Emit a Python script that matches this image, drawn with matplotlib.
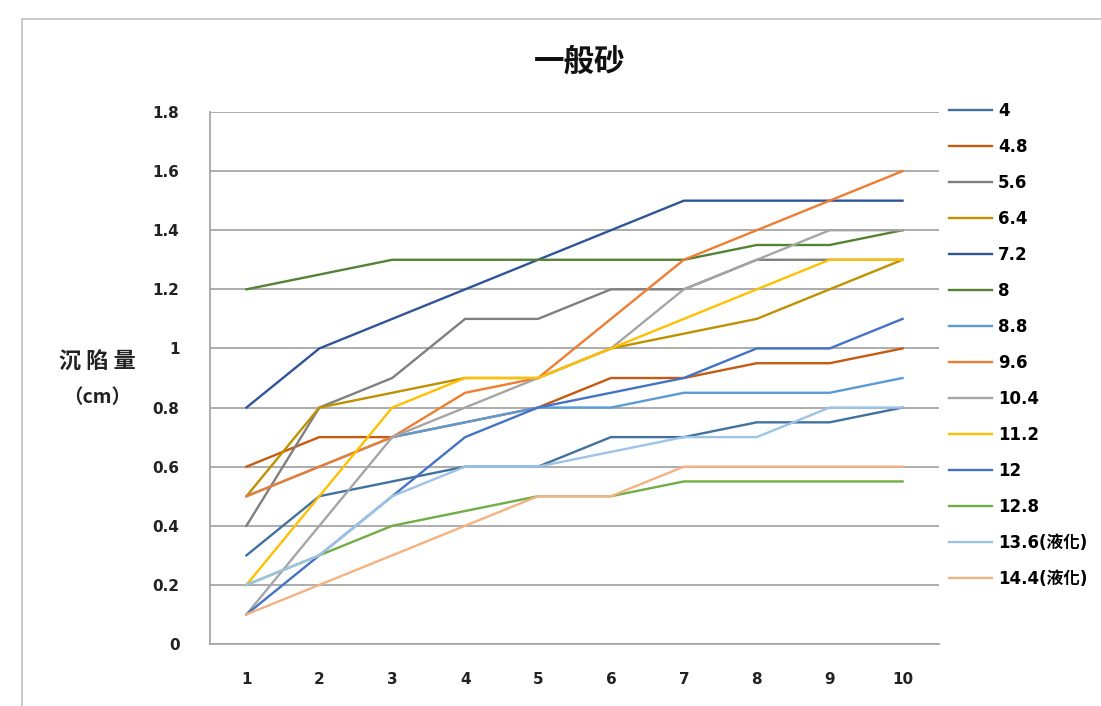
import matplotlib
matplotlib.use("Agg")
import matplotlib.pyplot as plt
from matplotlib.patches import Rectangle

plt.rcParams['font.family'] = ['Noto Sans CJK TC', 'DejaVu Sans']

# Test number on the x axis
steps = [1, 2, 3, 4, 5, 6, 7, 8, 9, 10]

# Series names (legend labels)
labels = ["4", "4.8", "5.6", "6.4", "7.2", "8", "8.8", "9.6",
          "10.4", "11.2", "12", "12.8", "13.6(液化)", "14.4(液化)"]

# Settlement values (cm) per series
s_4_0 = [0.30, 0.50, 0.55, 0.60, 0.60, 0.70, 0.70, 0.75, 0.75, 0.80]
s_4_8 = [0.60, 0.70, 0.70, 0.75, 0.80, 0.90, 0.90, 0.95, 0.95, 1.00]
s_5_6 = [0.40, 0.80, 0.90, 1.10, 1.10, 1.20, 1.20, 1.30, 1.30, 1.30]
s_6_4 = [0.50, 0.80, 0.85, 0.90, 0.90, 1.00, 1.05, 1.10, 1.20, 1.30]
s_7_2 = [0.80, 1.00, 1.10, 1.20, 1.30, 1.40, 1.50, 1.50, 1.50, 1.50]
s_8_0 = [1.20, 1.25, 1.30, 1.30, 1.30, 1.30, 1.30, 1.35, 1.35, 1.40]
s_8_8 = [0.50, 0.60, 0.70, 0.75, 0.80, 0.80, 0.85, 0.85, 0.85, 0.90]
s_9_6 = [0.50, 0.60, 0.70, 0.85, 0.90, 1.10, 1.30, 1.40, 1.50, 1.60]
s_10_4 = [0.10, 0.40, 0.70, 0.80, 0.90, 1.00, 1.20, 1.30, 1.40, 1.40]
s_11_2 = [0.20, 0.50, 0.80, 0.90, 0.90, 1.00, 1.10, 1.20, 1.30, 1.30]
s_12_0 = [0.10, 0.30, 0.50, 0.70, 0.80, 0.85, 0.90, 1.00, 1.00, 1.10]
s_12_8 = [0.20, 0.30, 0.40, 0.45, 0.50, 0.50, 0.55, 0.55, 0.55, 0.55]
s_13_6 = [0.20, 0.30, 0.50, 0.60, 0.60, 0.65, 0.70, 0.70, 0.80, 0.80]
s_14_4 = [0.10, 0.20, 0.30, 0.40, 0.50, 0.50, 0.60, 0.60, 0.60, 0.60]

series = [s_4_0, s_4_8, s_5_6, s_6_4, s_7_2, s_8_0, s_8_8, s_9_6,
          s_10_4, s_11_2, s_12_0, s_12_8, s_13_6, s_14_4]

colors = ["#41719C", "#C55A11", "#7F7F7F", "#BF9000", "#2F5597", "#548235",
          "#5B9BD5", "#ED7D31", "#A5A5A5", "#FFC000", "#4472C4", "#70AD47",
          "#9DC3E6", "#F4B183"]

y_ticks = [0, 0.2, 0.4, 0.6, 0.8, 1.0, 1.2, 1.4, 1.6, 1.8]
y_tick_labels = ["0", "0.2", "0.4", "0.6", "0.8", "1", "1.2", "1.4", "1.6", "1.8"]

fig = plt.figure(figsize=(11.01, 7.06), dpi=100)
fig.patch.set_facecolor("white")

# chart-area frame (only top and left edges fall inside the canvas)
fig.patches.append(Rectangle((22 / 1101, -0.1), 1.2, (706 - 19) / 706 + 0.1,
                             transform=fig.transFigure, fill=False,
                             edgecolor="#BFBFBF", linewidth=1.2, zorder=0))

ax = fig.add_axes([210 / 1101, 62 / 706, (939 - 210) / 1101, (644 - 112) / 706])

handles = []
for vals, lab, col in zip(series, labels, colors):
    h, = ax.plot(steps, vals, color=col, linewidth=1.7, label=lab,
                 solid_joinstyle="miter", zorder=3)
    handles.append(h)

ax.set_xlim(0.5, 10.5)
ax.set_ylim(0, 1.8)
ax.set_xticks(steps)
ax.set_xticklabels([str(s) for s in steps], fontsize=11, fontweight="bold",
                   family=["DejaVu Sans"], color="#222222")
ax.set_yticks(y_ticks)
ax.set_yticklabels(y_tick_labels, fontsize=11, fontweight="bold",
                   family=["DejaVu Sans"], color="#222222")
ax.tick_params(axis="both", length=0)
ax.tick_params(axis="x", pad=20)
ax.tick_params(axis="y", pad=22)

ax.grid(axis="y", color="#A6A6A6", linewidth=1.3, zorder=1)
for side in ("top", "right"):
    ax.spines[side].set_visible(False)
ax.spines["left"].set_color("#A6A6A6")
ax.spines["bottom"].set_color("#A6A6A6")
ax.spines["left"].set_linewidth(1.3)
ax.spines["bottom"].set_linewidth(1.3)

fig.text(580 / 1101, 1 - 62 / 706, "一般砂", ha="center", va="center",
         fontsize=22, fontweight="bold", color="#111111")
fig.text(97 / 1101, 1 - 362 / 706, "沉 陷 量", ha="center", va="center",
         fontsize=16, fontweight="bold", color="#222222")
fig.text(97 / 1101, 1 - 398 / 706, "（cm）", ha="center", va="center",
         fontsize=14, fontweight="bold", color="#222222")

fig.legend(handles=handles, labels=labels, loc="upper left",
           bbox_to_anchor=(942 / 1101, 1 - 95 / 706), frameon=False,
           handlelength=2.6, handletextpad=0.35,
           labelspacing=1.08, borderaxespad=0,
           prop={"family": ["DejaVu Sans", "Noto Sans CJK TC"], "weight": "bold", "size": 12})

fig.savefig("out.png", dpi=100, facecolor="white")
